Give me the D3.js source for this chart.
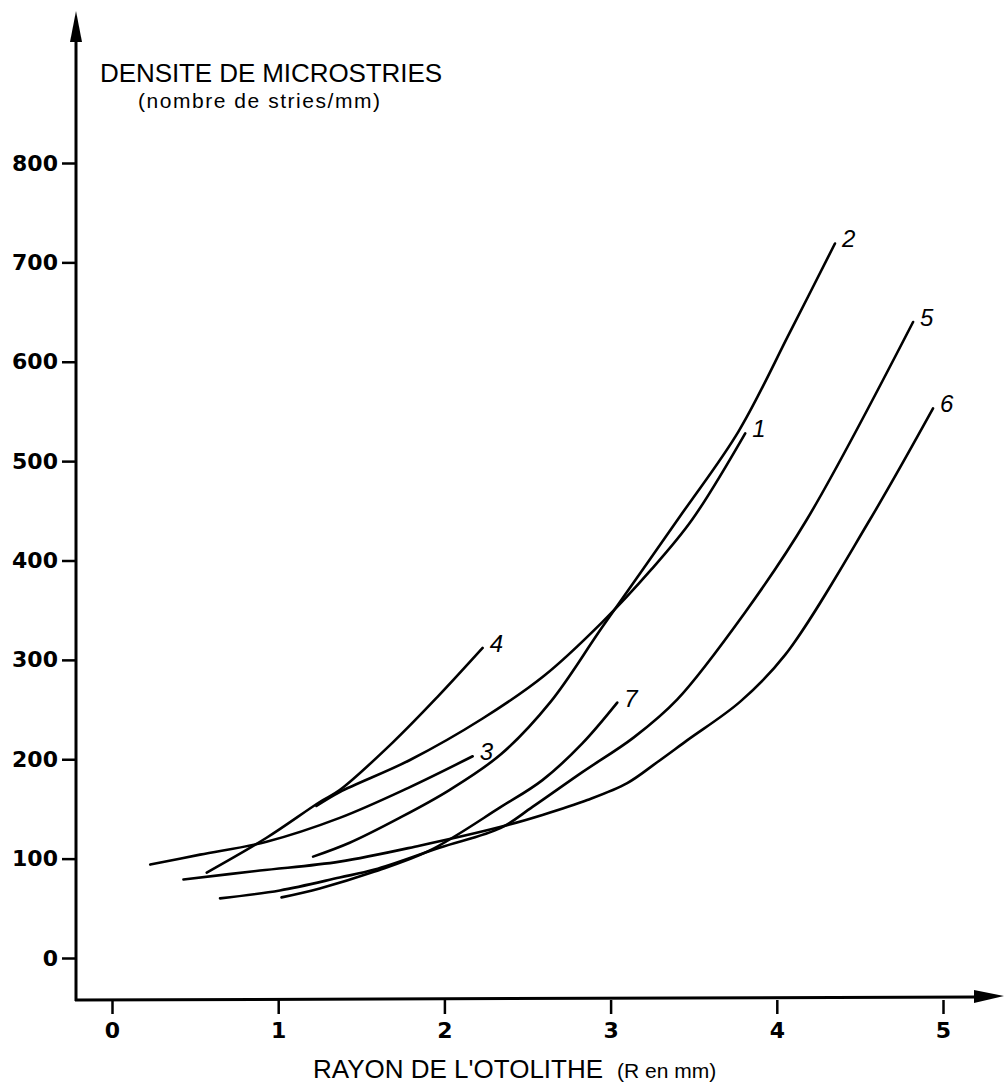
<!DOCTYPE html>
<html>
<head>
<meta charset="utf-8">
<script src="https://cdn.jsdelivr.net/npm/d3@7"></script>
<style>
  body { margin: 0; background: #fff; }
</style>
</head>
<body>
<div id="chart"></div>
<script>
const xTicks = [0, 1, 2, 3, 4, 5];
const yTicks = [0, 100, 200, 300, 400, 500, 600, 700, 800];
const curveNames = ["1", "2", "3", "4", "5", "6", "7"];

// rayon de l'otolithe (mm) and densite (stries/mm)
const rayon1 = [1.23, 1.37, 1.79, 2.23, 2.6, 2.95, 3.24, 3.49, 3.81];
const densite1 = [153, 167, 199, 241, 284, 338, 390, 441, 528];

const rayon2 = [1.21, 1.43, 1.73, 2.03, 2.34, 2.64, 2.95, 3.42, 3.77, 4.08, 4.35];
const densite2 = [102, 116, 141, 169, 205, 258, 333, 445, 530, 630, 719];

const rayon3 = [0.23, 0.53, 0.93, 1.37, 1.78, 2.17];
const densite3 = [94, 104, 117, 141, 171, 203];

const rayon4 = [0.57, 0.93, 1.25, 1.37, 1.69, 1.96, 2.23];
const densite4 = [86, 121, 157, 169, 217, 263, 312];

const rayon5 = [0.65, 1.01, 1.37, 1.58, 1.97, 2.34, 2.53, 2.83, 3.14, 3.4, 3.81, 4.18, 4.82];
const densite5 = [60, 68, 81, 89, 111, 131, 152, 187, 222, 260, 348, 441, 640];

const rayon6 = [0.43, 0.89, 1.37, 1.85, 2.34, 2.59, 2.86, 3.1, 3.28, 3.46, 3.78, 4.05, 4.56, 4.94];
const densite6 = [79, 88, 97, 113, 132, 144, 159, 176, 197, 219, 258, 305, 441, 553];

const rayon7 = [1.02, 1.25, 1.58, 1.91, 2.34, 2.59, 2.83, 3.04];
const densite7 = [61, 70, 87, 108, 152, 179, 216, 257];

class densityChart {
  constructor(_config, _series) {
    this.config = {
      parentElement: _config.parentElement,
      containerWidth: _config.containerWidth || 1005,
      containerHeight: _config.containerHeight || 1085,
      origin: _config.origin || { x: 76, y: 1000 },
    };
    this.series = _series;
    this.initVis();
  }

  initVis() {
    let vis = this;
    const o = vis.config.origin;

    vis.svg = d3
      .select(vis.config.parentElement)
      .append("svg")
      .attr("width", vis.config.containerWidth)
      .attr("height", vis.config.containerHeight)
      .style("background", "#fff");

    vis.x = d3.scaleLinear().domain([0, 5]).range([112, 943]);
    vis.y = d3.scaleLinear().domain([0, 800]).range([958, 163]);

    vis.line = d3
      .line()
      .x((d) => vis.x(d[0]))
      .y((d) => vis.y(d[1]))
      .curve(d3.curveCatmullRom.alpha(0.5));

    // axis lines with arrow heads
    vis.svg
      .append("line")
      .attr("x1", o.x)
      .attr("y1", o.y + 1)
      .attr("x2", o.x)
      .attr("y2", 38)
      .attr("stroke", "#000")
      .attr("stroke-width", 3);
    vis.svg
      .append("path")
      .attr("d", `M${o.x},11 L${o.x - 6},42 L${o.x + 6},42 Z`)
      .attr("fill", "#000");

    vis.svg
      .append("line")
      .attr("x1", o.x - 1)
      .attr("y1", o.y)
      .attr("x2", 978)
      .attr("y2", o.y - 3)
      .attr("stroke", "#000")
      .attr("stroke-width", 3);
    vis.svg
      .append("path")
      .attr("d", `M1004,${o.y - 4} L974,${o.y - 10} L974,${o.y + 3} Z`)
      .attr("fill", "#000");

    vis.yAxis = d3
      .axisLeft(vis.y)
      .tickValues(yTicks)
      .tickSize(14)
      .tickPadding(4)
      .tickFormat(d3.format("d"));

    vis.xAxis = d3
      .axisBottom(vis.x)
      .tickValues(xTicks)
      .tickSize(14)
      .tickPadding(8)
      .tickFormat(d3.format("d"));

    vis.renderVis();
  }

  renderVis() {
    let vis = this;
    const o = vis.config.origin;

    const yG = vis.svg
      .append("g")
      .attr("transform", `translate(${o.x},0)`)
      .call(vis.yAxis);
    const xG = vis.svg
      .append("g")
      .attr("transform", `translate(0,${o.y})`)
      .call(vis.xAxis);

    [yG, xG].forEach((g) => {
      g.select(".domain").remove();
      g.selectAll(".tick line").attr("stroke", "#000").attr("stroke-width", 2.5);
      g.selectAll(".tick text")
        .attr("fill", "#000")
        .style("font-family", "'DejaVu Sans', sans-serif")
        .style("font-weight", "bold")
        .style("font-size", "22px");
    });

    // curves
    vis.svg
      .append("g")
      .selectAll("path")
      .data(vis.series)
      .join("path")
      .attr("d", (d) => vis.line(d.points))
      .attr("fill", "none")
      .attr("stroke", "#000")
      .attr("stroke-width", 2.6)
      .attr("stroke-linecap", "round")
      .attr("stroke-linejoin", "round");

    vis.svg
      .append("g")
      .selectAll("text")
      .data(vis.series)
      .join("text")
      .attr("x", (d) => vis.x(d.points[d.points.length - 1][0]) + 7)
      .attr("y", (d) => vis.y(d.points[d.points.length - 1][1]) + 4)
      .style("font-family", "'Liberation Sans', Arial, sans-serif")
      .style("font-style", "italic")
      .style("font-size", "24px")
      .text((d) => d.name);

    // titles
    const font = "'Liberation Sans', Arial, sans-serif";
    vis.svg
      .append("text")
      .attr("x", 100)
      .attr("y", 82)
      .attr("textLength", 342)
      .style("font-family", font)
      .style("font-size", "26px")
      .text("DENSITE DE MICROSTRIES");
    vis.svg
      .append("text")
      .attr("x", 138)
      .attr("y", 108)
      .attr("textLength", 242)
      .style("font-family", font)
      .style("font-size", "21px")
      .text("(nombre de stries/mm)");

    const xt = vis.svg
      .append("text")
      .attr("x", 313)
      .attr("y", 1078)
      .style("font-family", font)
      .style("font-size", "26px");
    xt.append("tspan").text("RAYON DE L'OTOLITHE");
    xt.append("tspan").attr("dx", 14).style("font-size", "21px").text("(R en mm)");
  }
}

const rayons = [rayon1, rayon2, rayon3, rayon4, rayon5, rayon6, rayon7];
const densites = [densite1, densite2, densite3, densite4, densite5, densite6, densite7];
const series = curveNames.map((name, i) => ({
  name: name,
  points: rayons[i].map((r, j) => [r, densites[i][j]]),
}));

new densityChart({ parentElement: "#chart" }, series);
</script>
</body>
</html>
